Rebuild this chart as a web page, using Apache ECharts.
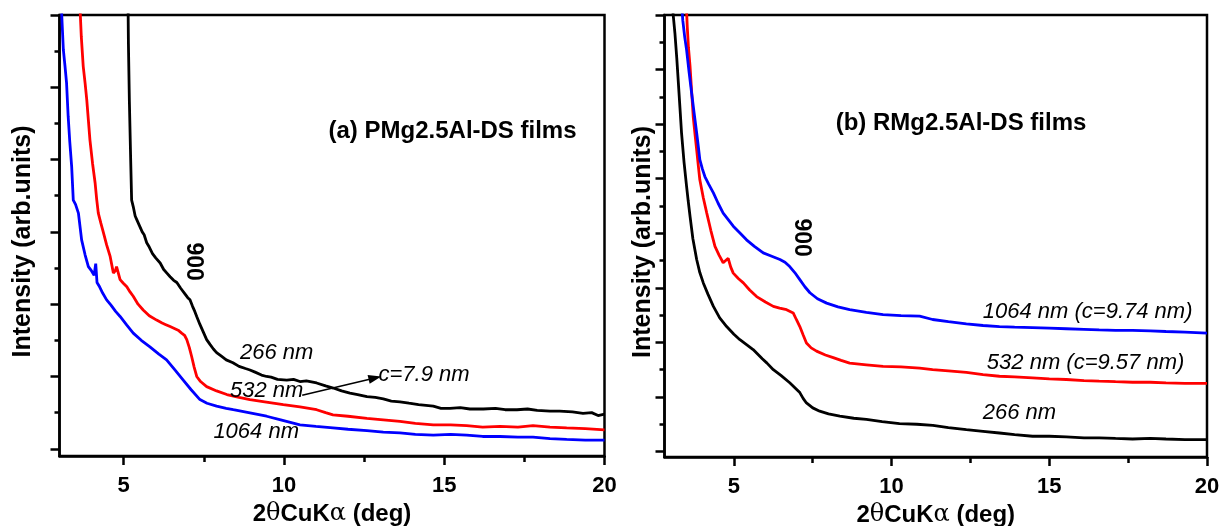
<!DOCTYPE html>
<html>
<head>
<meta charset="utf-8">
<script src="https://cdn.jsdelivr.net/npm/echarts@6/dist/echarts.min.js"></script>
<style>
  html, body { margin: 0; padding: 0; background: #fff; }
  #chart { width: 1223px; height: 526px; }
</style>
</head>
<body>
<div id="chart"></div>
<script>
// ---- XRD curves, 2θ (deg) vs intensity (arb. units) ----
// (a) PMg2.5Al-DS films
const pmg266 = [[5.12,7.0],[5.15,5.6],[5.18,4.8],[5.22,4.0],[5.25,3.44],[5.30,3.35],[5.36,3.22],[5.41,3.17],[5.5,3.08],[5.58,3.0],[5.64,2.96],[5.72,2.85],[5.8,2.79],[5.9,2.70],[6.0,2.64],[6.14,2.57],[6.25,2.48],[6.35,2.43],[6.45,2.38],[6.56,2.33],[6.66,2.30],[6.78,2.22],[6.9,2.15],[7.0,2.09],[7.07,2.06],[7.15,1.97],[7.22,1.90],[7.28,1.83],[7.38,1.72],[7.48,1.62],[7.59,1.51],[7.7,1.44],[7.8,1.38],[7.9,1.33],[8.05,1.28],[8.2,1.23],[8.41,1.19],[8.6,1.14],[8.8,1.11],[8.94,1.09],[9.1,1.06],[9.3,1.02],[9.46,1.00],[9.6,0.99],[9.8,0.96],[10.09,0.95],[10.3,0.96],[10.5,0.93],[10.7,0.94],[11.02,0.91],[11.3,0.87],[11.54,0.84],[11.8,0.80],[12.06,0.77],[12.3,0.75],[12.59,0.72],[12.85,0.71],[13.1,0.69],[13.35,0.66],[13.62,0.65],[13.9,0.63],[14.2,0.61],[14.66,0.59],[14.9,0.56],[15.18,0.56],[15.5,0.57],[15.8,0.55],[16.22,0.55],[16.6,0.56],[16.9,0.54],[17.27,0.54],[17.6,0.55],[17.9,0.53],[18.3,0.52],[18.6,0.52],[19.0,0.51],[19.33,0.49],[19.6,0.50],[19.8,0.46],[20.0,0.48]];
const pmg532 = [[3.62,6.3],[3.68,5.7],[3.74,5.29],[3.8,5.05],[3.85,4.83],[3.9,4.55],[3.95,4.27],[4.03,3.95],[4.11,3.68],[4.16,3.45],[4.21,3.26],[4.29,3.12],[4.37,2.99],[4.47,2.82],[4.58,2.66],[4.68,2.43],[4.74,2.46],[4.78,2.52],[4.83,2.50],[4.89,2.34],[4.99,2.29],[5.1,2.24],[5.2,2.17],[5.30,2.11],[5.45,2.00],[5.61,1.92],[5.8,1.84],[6.03,1.78],[6.2,1.74],[6.3,1.72],[6.45,1.69],[6.6,1.66],[6.7,1.64],[6.81,1.60],[6.9,1.57],[6.97,1.51],[7.05,1.40],[7.12,1.28],[7.2,1.13],[7.28,1.00],[7.4,0.93],[7.59,0.86],[7.9,0.80],[8.22,0.75],[8.6,0.71],[8.94,0.68],[9.4,0.65],[9.98,0.61],[10.5,0.58],[11.02,0.54],[11.3,0.50],[11.53,0.47],[12.0,0.45],[12.59,0.42],[13.1,0.40],[13.62,0.38],[14.1,0.35],[14.66,0.33],[15.2,0.33],[15.70,0.32],[16.2,0.30],[16.74,0.31],[17.3,0.30],[17.77,0.32],[18.3,0.30],[18.82,0.29],[19.4,0.28],[20.0,0.26]];
const pmg1064 = [[3.03,6.4],[3.08,5.9],[3.12,5.52],[3.17,5.3],[3.22,5.06],[3.27,4.60],[3.32,4.25],[3.38,3.90],[3.43,3.44],[3.5,3.38],[3.59,3.26],[3.69,2.89],[3.8,2.68],[3.90,2.52],[4.0,2.46],[4.08,2.40],[4.13,2.56],[4.17,2.30],[4.25,2.24],[4.35,2.15],[4.47,2.06],[4.6,1.99],[4.75,1.90],[4.89,1.83],[5.1,1.71],[5.30,1.60],[5.55,1.50],[5.82,1.41],[6.1,1.31],[6.34,1.23],[6.6,1.09],[6.86,0.95],[7.1,0.82],[7.38,0.68],[7.6,0.63],[7.90,0.59],[8.2,0.56],[8.42,0.54],[8.9,0.50],[9.46,0.45],[9.9,0.40],[10.50,0.33],[11.0,0.31],[11.53,0.29],[12.0,0.27],[12.59,0.25],[13.1,0.23],[13.62,0.22],[14.1,0.20],[14.66,0.19],[15.2,0.20],[15.70,0.19],[16.2,0.17],[16.74,0.17],[17.3,0.16],[17.77,0.16],[18.3,0.14],[18.82,0.13],[19.4,0.12],[20.0,0.12]];

// (b) RMg2.5Al-DS films
const rmg266 = [[3.0,8.6],[3.06,8.1],[3.13,7.67],[3.19,7.2],[3.24,6.75],[3.29,6.3],[3.34,5.84],[3.42,5.3],[3.50,4.86],[3.55,4.6],[3.61,4.31],[3.7,3.9],[3.82,3.52],[3.92,3.28],[4.03,3.09],[4.18,2.88],[4.35,2.66],[4.55,2.45],[4.77,2.29],[5.0,2.15],[5.19,2.05],[5.4,1.96],[5.61,1.87],[5.9,1.70],[6.05,1.62],[6.25,1.50],[6.5,1.39],[6.77,1.26],[6.95,1.16],[7.09,1.08],[7.2,0.97],[7.30,0.89],[7.5,0.80],[7.72,0.74],[8.0,0.69],[8.36,0.65],[8.8,0.61],[9.20,0.59],[9.7,0.55],[10.25,0.51],[10.8,0.50],[11.31,0.48],[11.8,0.44],[12.37,0.40],[12.9,0.37],[13.42,0.34],[13.9,0.31],[14.47,0.28],[15.0,0.28],[15.54,0.27],[16.1,0.25],[16.58,0.25],[17.1,0.24],[17.64,0.23],[18.2,0.24],[18.70,0.23],[19.3,0.22],[20.0,0.22]];
const rmg532 = [[3.47,8.5],[3.52,7.8],[3.56,7.4],[3.61,7.06],[3.66,6.6],[3.71,6.14],[3.77,5.8],[3.82,5.53],[3.87,5.25],[3.92,4.98],[4.03,4.65],[4.14,4.37],[4.27,4.05],[4.40,3.76],[4.53,3.6],[4.66,3.46],[4.74,3.50],[4.82,3.54],[4.9,3.38],[4.98,3.27],[5.14,3.17],[5.30,3.09],[5.5,2.96],[5.72,2.84],[6.0,2.74],[6.25,2.66],[6.45,2.63],[6.67,2.60],[6.88,2.54],[6.98,2.42],[7.09,2.29],[7.2,2.13],[7.30,1.99],[7.45,1.90],[7.62,1.84],[7.9,1.77],[8.15,1.72],[8.4,1.67],[8.67,1.62],[9.2,1.59],[9.73,1.56],[10.3,1.55],[10.89,1.53],[11.30,1.50],[11.8,1.48],[12.37,1.45],[12.9,1.41],[13.42,1.38],[13.9,1.37],[14.47,1.35],[15.0,1.33],[15.54,1.32],[16.1,1.30],[16.58,1.29],[17.1,1.28],[17.64,1.27],[18.2,1.27],[18.70,1.26],[19.3,1.25],[20.0,1.25]];
const rmg1064 = [[3.31,8.5],[3.38,7.9],[3.44,7.6],[3.50,7.36],[3.58,6.95],[3.66,6.57],[3.74,6.2],[3.82,5.84],[3.87,5.6],[3.92,5.35],[4.0,5.18],[4.08,5.04],[4.2,4.9],[4.35,4.74],[4.5,4.55],[4.66,4.37],[4.82,4.25],[4.98,4.13],[5.2,4.0],[5.40,3.88],[5.65,3.76],[5.93,3.64],[6.2,3.58],[6.46,3.52],[6.62,3.47],[6.77,3.39],[6.93,3.28],[7.09,3.15],[7.25,3.02],[7.41,2.91],[7.65,2.80],[7.94,2.72],[8.3,2.65],[8.67,2.60],[9.2,2.55],[9.73,2.51],[10.3,2.49],[10.89,2.48],[11.30,2.42],[11.8,2.38],[12.37,2.34],[12.9,2.31],[13.42,2.29],[13.9,2.28],[14.47,2.27],[15.0,2.26],[15.54,2.25],[16.1,2.24],[16.58,2.23],[17.1,2.22],[17.64,2.22],[18.2,2.21],[18.70,2.20],[19.3,2.19],[20.0,2.17]];

// axis ticks
const xMajorTicks = [5, 10, 15, 20];
const xMinorTicks = [7.5, 12.5, 17.5];
const yMajorTicksA = [0, 1, 2, 3, 4, 5, 6];
const yMinorTicksA = [0.5, 1.5, 2.5, 3.5, 4.5, 5.5];
const yMajorTicksB = [0, 1, 2, 3, 4, 5, 6, 7, 8];
const yMinorTicksB = [0.5, 1.5, 2.5, 3.5, 4.5, 5.5, 6.5, 7.5];

// annotations, in data coordinates of each panel
const arrowA = [[10.57, 0.74], [12.84, 0.98]];
const textsA = [
  { text: '(a) PMg2.5Al-DS films', at: [15.26, 4.39], bold: true, align: 'center', size: 24 },
  { text: '006', at: [7.31, 2.59], bold: true, align: 'center', size: 23, rotate: true },
  { text: '266 nm', at: [8.63, 1.33], align: 'left' },
  { text: '532 nm', at: [8.32, 0.80], align: 'left' },
  { text: '1064 nm', at: [7.80, 0.236], align: 'left' },
  { text: 'c=7.9 nm', at: [12.95, 1.02], align: 'left' }
];
const textsB = [
  { text: '(b) RMg2.5Al-DS films', at: [12.2, 6.02], bold: true, align: 'center', size: 24 },
  { text: '006', at: [7.28, 3.92], bold: true, align: 'center', size: 23, rotate: true },
  { text: '1064 nm (c=9.74 nm)', at: [12.89, 2.56], align: 'left' },
  { text: '532 nm (c=9.57 nm)', at: [13.02, 1.62], align: 'left' },
  { text: '266 nm', at: [12.89, 0.70], align: 'left' }
];

const FONT = '"Liberation Sans", Arial, Helvetica, sans-serif';
const BLACK = '#000000', RED = '#ff0000', BLUE = '#0000ff';

const xName = '{b|2}{s|θ}{b|CuK}{s|α}{b| (deg)}';
const xNameStyle = {
  color: BLACK,
  rich: {
    b: { fontFamily: FONT, fontWeight: 'bold', fontSize: 24, color: BLACK },
    s: { fontFamily: '"DejaVu Serif", serif', fontWeight: 'normal', fontSize: 24, color: BLACK }
  }
};

function xAxisMain(grid, min) {
  return {
    type: 'value', gridIndex: grid, min: min, max: 20, position: 'bottom',
    axisLine: { onZero: false, lineStyle: { color: BLACK, width: 2.5 } },
    axisTick: { show: true, customValues: xMajorTicks, length: 9, lineStyle: { color: BLACK, width: 2.5 } },
    axisLabel: { customValues: xMajorTicks, color: BLACK, fontFamily: FONT, fontWeight: 'bold', fontSize: 22, margin: 19 },
    splitLine: { show: false },
    name: xName, nameLocation: 'middle', nameGap: 46, nameTextStyle: xNameStyle
  };
}
function xAxisMinor(grid, min) {
  return {
    type: 'value', gridIndex: grid, min: min, max: 20, position: 'bottom',
    axisLine: { show: false, onZero: false },
    axisTick: { show: true, customValues: xMinorTicks, length: 6, lineStyle: { color: BLACK, width: 2.5 } },
    axisLabel: { show: false }, splitLine: { show: false }
  };
}
function yAxisMain(grid, max, ticks, gap) {
  return {
    type: 'value', gridIndex: grid, min: -0.1, max: max, position: 'left',
    axisLine: { show: true, onZero: false, lineStyle: { color: BLACK, width: 2.5 } },
    axisTick: { show: true, customValues: ticks, length: 9, lineStyle: { color: BLACK, width: 2.5 } },
    axisLabel: { show: false }, splitLine: { show: false },
    name: 'Intensity (arb.units)', nameLocation: 'middle', nameGap: gap,
    nameTextStyle: { color: BLACK, fontFamily: FONT, fontWeight: 'bold', fontSize: 25, padding: [0, 12, 0, 0] }
  };
}
function yAxisMinor(grid, max, ticks) {
  return {
    type: 'value', gridIndex: grid, min: -0.1, max: max, position: 'left',
    axisLine: { show: false, onZero: false },
    axisTick: { show: true, customValues: ticks, length: 5, lineStyle: { color: BLACK, width: 2.5 } },
    axisLabel: { show: false }, splitLine: { show: false }
  };
}
function curve(data, color, xi, yi, extra) {
  return Object.assign({
    type: 'line', data: data, xAxisIndex: xi, yAxisIndex: yi,
    showSymbol: false, symbol: 'none', smooth: false, clip: true,
    lineStyle: { color: color, width: 2.8 }, itemStyle: { color: color },
    silent: true, animation: false, z: 3
  }, extra || {});
}

const chart = echarts.init(document.getElementById('chart'), null, { renderer: 'canvas' });

const gridBase = { show: true, borderColor: BLACK, borderWidth: 2.5, backgroundColor: 'transparent', containLabel: false, outerBoundsMode: 'none' };

chart.setOption({
  animation: false,
  backgroundColor: '#ffffff',
  grid: [
    Object.assign({ left: 59.5, top: 15, width: 545, height: 441 }, gridBase),
    Object.assign({ left: 664.5, top: 15, width: 542.5, height: 442 }, gridBase)
  ],
  xAxis: [xAxisMain(0, 3), xAxisMinor(0, 3), xAxisMain(1, 2.8), xAxisMinor(1, 2.8)],
  yAxis: [
    yAxisMain(0, 6, yMajorTicksA, 24), yAxisMinor(0, 6, yMinorTicksA),
    yAxisMain(1, 8, yMajorTicksB, 9), yAxisMinor(1, 8, yMinorTicksB)
  ],
  series: [
    curve(pmg266, BLACK, 0, 0, {
      markLine: {
        silent: true, animation: false,
        symbol: ['none', 'triangle'], symbolSize: [9, 13],
        label: { show: false },
        lineStyle: { color: BLACK, width: 1.6, type: 'solid' },
        data: [[{ coord: arrowA[0] }, { coord: arrowA[1] }]]
      }
    }),
    curve(pmg532, RED, 0, 0),
    curve(pmg1064, BLUE, 0, 0),
    curve(rmg266, BLACK, 2, 2),
    curve(rmg532, RED, 2, 2),
    curve(rmg1064, BLUE, 2, 2)
  ]
});

// place the text annotations through each panel's own scales
function toGraphic(items, gridIndex) {
  return items.map(function (t) {
    const p = chart.convertToPixel({ gridIndex: gridIndex }, t.at);
    const size = t.size || 22;
    const font = (t.bold ? 'bold ' : 'italic ') + size + 'px ' + FONT;
    return {
      type: 'text', x: p[0], y: p[1], rotation: t.rotate ? Math.PI / 2 : 0, z: 10, silent: true,
      style: {
        text: t.text, font: font, fill: BLACK,
        align: t.align, verticalAlign: 'middle',
        textAlign: t.align, textVerticalAlign: 'middle'
      }
    };
  });
}
chart.setOption({ graphic: toGraphic(textsA, 0).concat(toGraphic(textsB, 1)) });
</script>
</body>
</html>
